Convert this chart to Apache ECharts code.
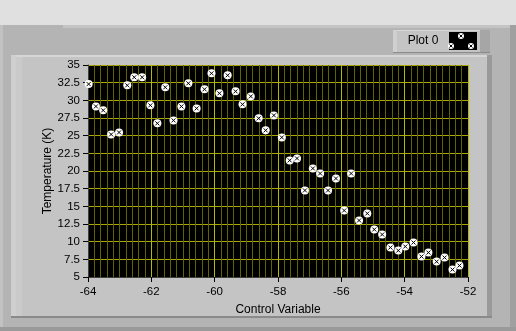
<!DOCTYPE html>
<html>
<head>
<meta charset="utf-8">
<script src="https://cdn.jsdelivr.net/npm/echarts@6/dist/echarts.min.js"></script>
<style>
html,body{margin:0;padding:0;background:#e0e0e0;}
#c{width:516px;height:331px;}
</style>
</head>
<body>
<div id="c"></div>
<script>
// Data
var xValues = [-63.98,-63.75,-63.52,-63.27,-63.02,-62.76,-62.54,-62.29,-62.03,-61.81,
  -61.56,-61.30,-61.05,-60.83,-60.57,-60.32,-60.10,-59.85,-59.59,-59.34,
  -59.12,-58.86,-58.61,-58.39,-58.13,-57.88,-57.63,-57.40,-57.15,-56.90,
  -56.67,-56.42,-56.17,-55.91,-55.69,-55.44,-55.18,-54.96,-54.71,-54.45,
  -54.20,-53.98,-53.72,-53.47,-53.25,-52.99,-52.74,-52.49,-52.27];
var yValues = [32.3,29.14,28.58,25.18,25.46,32.12,33.26,33.26,29.29,26.74,
  31.84,27.16,29.14,32.41,28.86,31.56,33.82,30.99,33.54,31.27,
  29.43,30.56,27.45,25.75,27.87,24.75,21.5,21.78,17.25,20.36,
  19.65,17.25,18.94,14.41,19.65,13.0,13.99,11.72,11.01,9.17,
  8.74,9.31,9.88,7.89,8.46,7.18,7.75,6.05,6.62];
var seriesName = "Plot 0";
var xTitle = "Control Variable";
var yTitle = "Temperature (K)";

var pts = xValues.map(function(x,i){return [x,yValues[i]];});
var font = "'Liberation Sans', Arial, sans-serif";

function legendMark(cx, cy){
  return [
    {type:'circle',z:-6,shape:{cx:cx,cy:cy,r:3},style:{fill:'#fff'}},
    {type:'line',z:-5,shape:{x1:cx-1.5,y1:cy-1.5,x2:cx+1.5,y2:cy+1.5},style:{stroke:'#000',lineWidth:1}},
    {type:'line',z:-5,shape:{x1:cx+1.5,y1:cy-1.5,x2:cx-1.5,y2:cy+1.5},style:{stroke:'#000',lineWidth:1}}
  ];
}

var chart = echarts.init(document.getElementById('c'), null, {renderer:'canvas'});
chart.setOption({
  animation:false,
  backgroundColor:'#e0e0e0',
  graphic:[
    {type:'rect',z:-10,shape:{x:0,y:25,width:516,height:306},style:{fill:'#b4b4b4'}},
    {type:'rect',z:-10,shape:{x:63,y:25,width:453,height:3},style:{fill:'#c4c4c4'}},
    {type:'rect',z:-10,shape:{x:0,y:25,width:3,height:306},style:{fill:'#c2c2c2'}},
    {type:'rect',z:-10,shape:{x:510,y:25,width:6,height:306},style:{fill:'#a0a0a0'}},
    {type:'rect',z:-10,shape:{x:0,y:327,width:516,height:4},style:{fill:'#9a9a9a'}},
    // inner panel
    {type:'rect',z:-9,shape:{x:11,y:55,width:481,height:263},style:{fill:'#c4c4c4'}},
    {type:'rect',z:-9,shape:{x:11,y:55,width:481,height:2},style:{fill:'#d6d6d6'}},
    {type:'rect',z:-9,shape:{x:11,y:55,width:5,height:263},style:{fill:'#cfcfcf'}},
    {type:'rect',z:-9,shape:{x:16,y:57,width:6,height:261},style:{fill:'#cacaca'}},
    {type:'rect',z:-9,shape:{x:487,y:55,width:5,height:263},style:{fill:'#9a9a9a'}},
    {type:'rect',z:-9,shape:{x:11,y:316,width:481,height:2},style:{fill:'#8a8a8a'}},
    // legend
    {type:'rect',z:-8,shape:{x:393,y:30,width:97,height:23},style:{fill:'#c4c4c4'}},
    {type:'rect',z:-8,shape:{x:393,y:30,width:97,height:1},style:{fill:'#d8d8d8'}},
    {type:'rect',z:-8,shape:{x:393,y:30,width:4,height:23},style:{fill:'#d0d0d0'}},
    {type:'rect',z:-8,shape:{x:480,y:30,width:10,height:23},style:{fill:'#a6a6a6'}},
    {type:'rect',z:-8,shape:{x:393,y:52,width:97,height:1},style:{fill:'#8a8a8a'}},
    {type:'rect',z:-7,shape:{x:449,y:32,width:28,height:18},style:{fill:'#000'}},
    {type:'text',z:-6,style:{x:423,y:41,text:seriesName,font:'12px '+font,fill:'#000',textAlign:'center',textVerticalAlign:'middle'}}
  ].concat(legendMark(461,36), legendMark(451,46), legendMark(471,46)),
  grid:{left:88,top:65,width:380,height:212,backgroundColor:'#000',show:true,borderWidth:0},
  xAxis:{
    type:'value',min:-64,max:-52,interval:2,
    name:xTitle,nameLocation:'middle',nameGap:27,nameMoveOverlap:false,
    nameTextStyle:{fontFamily:font,fontSize:12,color:'#000'},
    axisLine:{show:true,lineStyle:{color:'#404040',width:1}},
    axisTick:{show:true,length:5,lineStyle:{color:'#000'}},
    axisLabel:{fontFamily:font,fontSize:11.5,color:'#000',margin:9},
    splitLine:{show:true,lineStyle:{color:'#b8b800',width:1}},
    minorTick:{show:false,splitNumber:10},
    minorSplitLine:{show:true,lineStyle:{color:'#626200',width:1}}
  },
  yAxis:{
    type:'value',min:5,max:35,interval:2.5,
    name:yTitle,nameLocation:'middle',nameGap:34,nameRotate:90,nameMoveOverlap:false,
    nameTextStyle:{fontFamily:font,fontSize:12,color:'#000'},
    axisLine:{show:true,lineStyle:{color:'#404040',width:1}},
    axisTick:{show:true,length:5,lineStyle:{color:'#000'}},
    axisLabel:{fontFamily:font,fontSize:11.5,color:'#000',margin:8},
    splitLine:{show:true,lineStyle:{color:'#a8a800',width:1}}
  },
  series:[
    {type:'scatter',data:pts,symbol:'circle',symbolSize:8,
     itemStyle:{color:'#fff',opacity:1},z:3},
    {type:'scatter',data:pts,symbol:'path://M0,0L10,10M10,0L0,10',symbolSize:4,
     itemStyle:{color:'none',borderColor:'#000',borderWidth:1,opacity:1},z:4,silent:true}
  ]
});
</script>
</body>
</html>
